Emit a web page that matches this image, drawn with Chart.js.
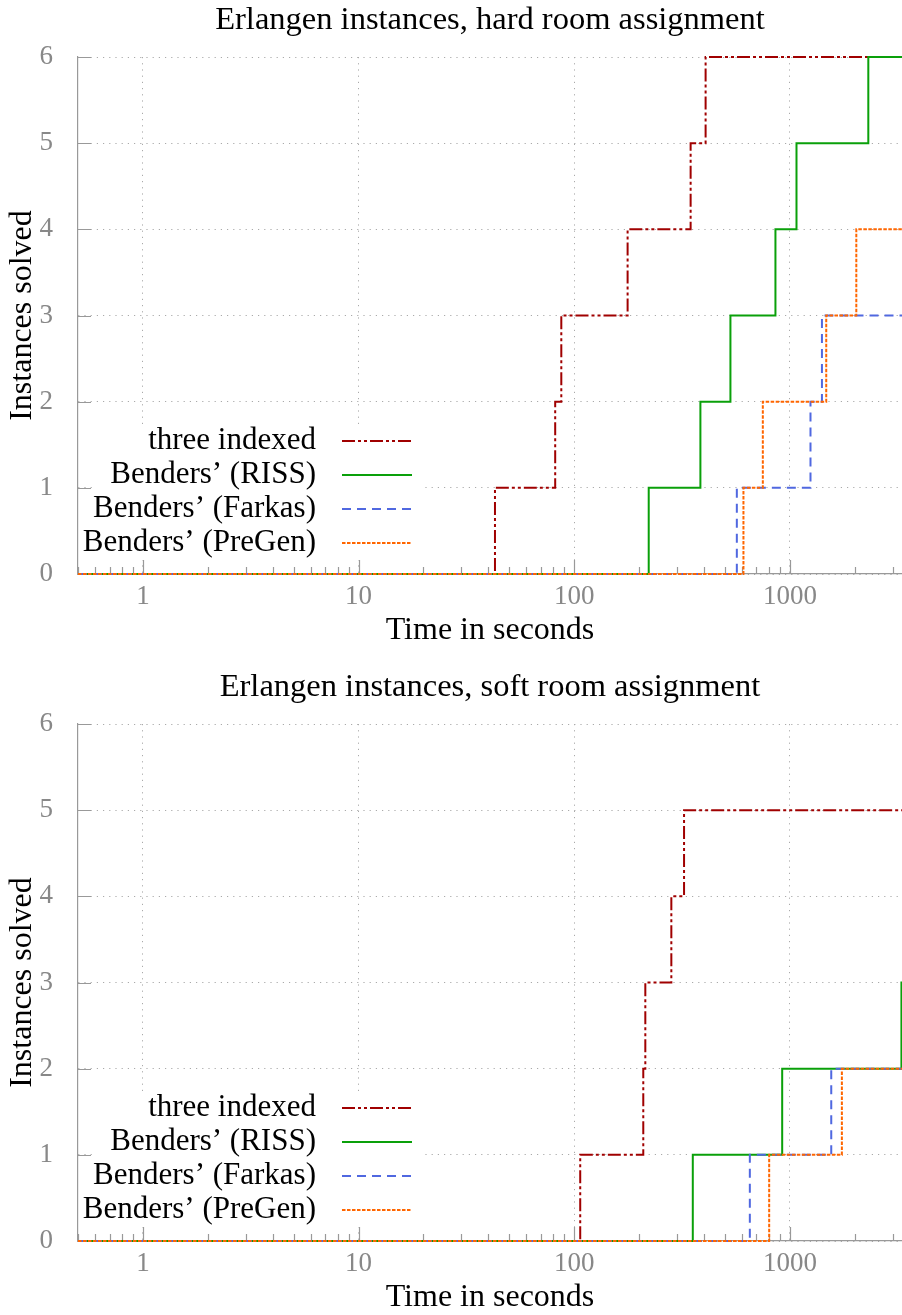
<!DOCTYPE html>
<html>
<head>
<meta charset="utf-8">
<script src="https://cdn.jsdelivr.net/npm/chart.js@4.4.0/dist/chart.umd.min.js"></script>
<style>
  html, body { margin: 0; padding: 0; background: #fff; }
  canvas { display: block; }
</style>
</head>
<body>
<canvas id="hardChart" width="902" height="667"></canvas>
<canvas id="softChart" width="902" height="648"></canvas>
<script>
// axis range (seconds) and tick labels
const timeMin = 0.5;
const timeMax = 3310;
const xTickLabels = [1, 10, 100, 1000];
const yMax = 6;

const seriesNames = ['three indexed', 'Benders’ (RISS)', 'Benders’ (Farkas)', 'Benders’ (PreGen)'];

// time at which each further instance was solved
const hardThreeIndexed = [42.9, 81.6, 87.1, 176.8, 346.5, 406.6];
const hardRiss = [221.5, 384.6, 530, 857, 1073, 2310];
const hardFarkas = [567.5, 1246, 1408];
const hardPreGen = [609, 749, 1474, 2032];

const softThreeIndexed = [106.6, 209, 213.6, 282, 323];
const softRiss = [354.6, 921, 3290];
const softFarkas = [652, 1555];
const softPreGen = [801.5, 1742];

const serif = '"Liberation Serif", "Times New Roman", serif';
const axisGray = '#999';

function stepPoints(times) {
    const pts = [{ x: timeMin, y: 0 }];
    times.forEach(function (t, i) { pts.push({ x: t, y: i + 1 }); });
    pts.push({ x: timeMax, y: times.length });
    return pts;
}

// small solid tick marks pointing into the plot
const innerTicks = {
    id: 'innerTicks',
    beforeDatasetsDraw(chart) {
        const { ctx, chartArea, scales } = chart;
        ctx.save();
        ctx.strokeStyle = axisGray;
        ctx.lineWidth = 1.2;
        ctx.beginPath();
        for (let e = -1; e <= 3; e++) {
            for (let k = 1; k <= 9; k++) {
                const v = k * Math.pow(10, e);
                if (v < timeMin || v > timeMax) continue;
                const x = Math.round(scales.x.getPixelForValue(v)) + 0.5;
                ctx.moveTo(x, chartArea.bottom);
                ctx.lineTo(x, chartArea.bottom - (k === 1 ? 14 : 7));
            }
        }
        for (let v = 0; v <= yMax; v++) {
            const y = Math.round(scales.y.getPixelForValue(v)) + 0.5;
            ctx.moveTo(chartArea.left, y);
            ctx.lineTo(chartArea.left + 13, y);
        }
        ctx.stroke();
        ctx.restore();
    }
};

// legend box in the lower left of the plot
const insideLegend = {
    id: 'insideLegend',
    beforeDatasetsDraw(chart) {
        const { ctx, chartArea } = chart;
        const left = chartArea.left;
        const bottom = chartArea.bottom;
        ctx.save();
        ctx.fillStyle = '#fff';
        ctx.fillRect(left + 14, bottom - 149, 332, 135);
        ctx.font = '31px ' + serif;
        ctx.textAlign = 'right';
        ctx.textBaseline = 'middle';
        chart.data.datasets.forEach(function (ds, i) {
            const y = bottom - 133 + i * 34;
            ctx.fillStyle = '#000';
            ctx.fillText(ds.label, left + 238, y);
            ctx.strokeStyle = ds.borderColor;
            ctx.lineWidth = ds.borderWidth;
            ctx.setLineDash(ds.borderDash || []);
            ctx.beginPath();
            ctx.moveTo(left + 264, y);
            ctx.lineTo(left + 334, y);
            ctx.stroke();
        });
        ctx.restore();
    }
};

function makeChart(canvasId, title, series, bottomPad) {
    const styles = [
        { color: '#a00000', dash: [13, 3, 3, 3, 3, 3], order: 3 },
        { color: '#0aa00a', dash: [], order: 2 },
        { color: '#5068e0', dash: [9, 6], order: 1 },
        { color: '#ff6600', dash: [3.5, 1.5], order: 0 }
    ];
    const datasets = series.map(function (times, i) {
        return {
            label: seriesNames[i],
            data: stepPoints(times),
            borderColor: styles[i].color,
            borderDash: styles[i].dash,
            borderWidth: 2,
            stepped: 'before',
            pointRadius: 0,
            fill: false,
            clip: false,
            order: styles[i].order
        };
    });

    return new Chart(document.getElementById(canvasId).getContext('2d'), {
        type: 'line',
        data: { datasets: datasets },
        options: {
            responsive: false,
            animation: false,
            layout: { padding: { left: 0, right: 0, top: 0, bottom: bottomPad } },
            plugins: {
                legend: { display: false },
                tooltip: { enabled: false },
                title: {
                    display: true,
                    fullSize: false,
                    text: title,
                    color: '#000',
                    font: { family: serif, size: 32.5, weight: 'normal', lineHeight: 1.1 },
                    padding: { top: 3, bottom: 18.25 }
                }
            },
            scales: {
                x: {
                    type: 'logarithmic',
                    min: timeMin,
                    max: timeMax,
                    afterBuildTicks: function (scale) {
                        scale.ticks = xTickLabels.map(function (v) { return { value: v }; });
                    },
                    afterFit: function (scale) { scale.height = 74; },
                    ticks: {
                        autoSkip: false,
                        maxRotation: 0,
                        padding: 7,
                        color: '#888',
                        font: { family: serif, size: 27 },
                        callback: function (v) { return String(v); }
                    },
                    grid: { color: '#aaa', lineWidth: 1, drawTicks: false },
                    border: { color: axisGray, width: 1.2, dash: [1.2, 5] },
                    title: {
                        display: true,
                        text: 'Time in seconds',
                        color: '#000',
                        font: { family: serif, size: 32, lineHeight: 1.1 },
                        padding: { top: 0, bottom: 0 }
                    }
                },
                y: {
                    min: 0,
                    max: yMax,
                    afterFit: function (scale) { scale.width = 78; },
                    ticks: {
                        stepSize: 1,
                        padding: 25,
                        color: '#888',
                        font: { family: serif, size: 27 }
                    },
                    grid: { color: '#aaa', lineWidth: 1, drawTicks: false },
                    border: { color: axisGray, width: 1.2, dash: [1.2, 5] },
                    title: {
                        display: true,
                        text: 'Instances solved',
                        color: '#000',
                        font: { family: serif, size: 32, lineHeight: 1.1 },
                        padding: { top: 5, bottom: 0 }
                    }
                }
            }
        },
        plugins: [innerTicks, insideLegend]
    });
}

makeChart('hardChart', 'Erlangen instances, hard room assignment',
    [hardThreeIndexed, hardRiss, hardFarkas, hardPreGen], 19);
makeChart('softChart', 'Erlangen instances, soft room assignment',
    [softThreeIndexed, softRiss, softFarkas, softPreGen], 0);
</script>
</body>
</html>
